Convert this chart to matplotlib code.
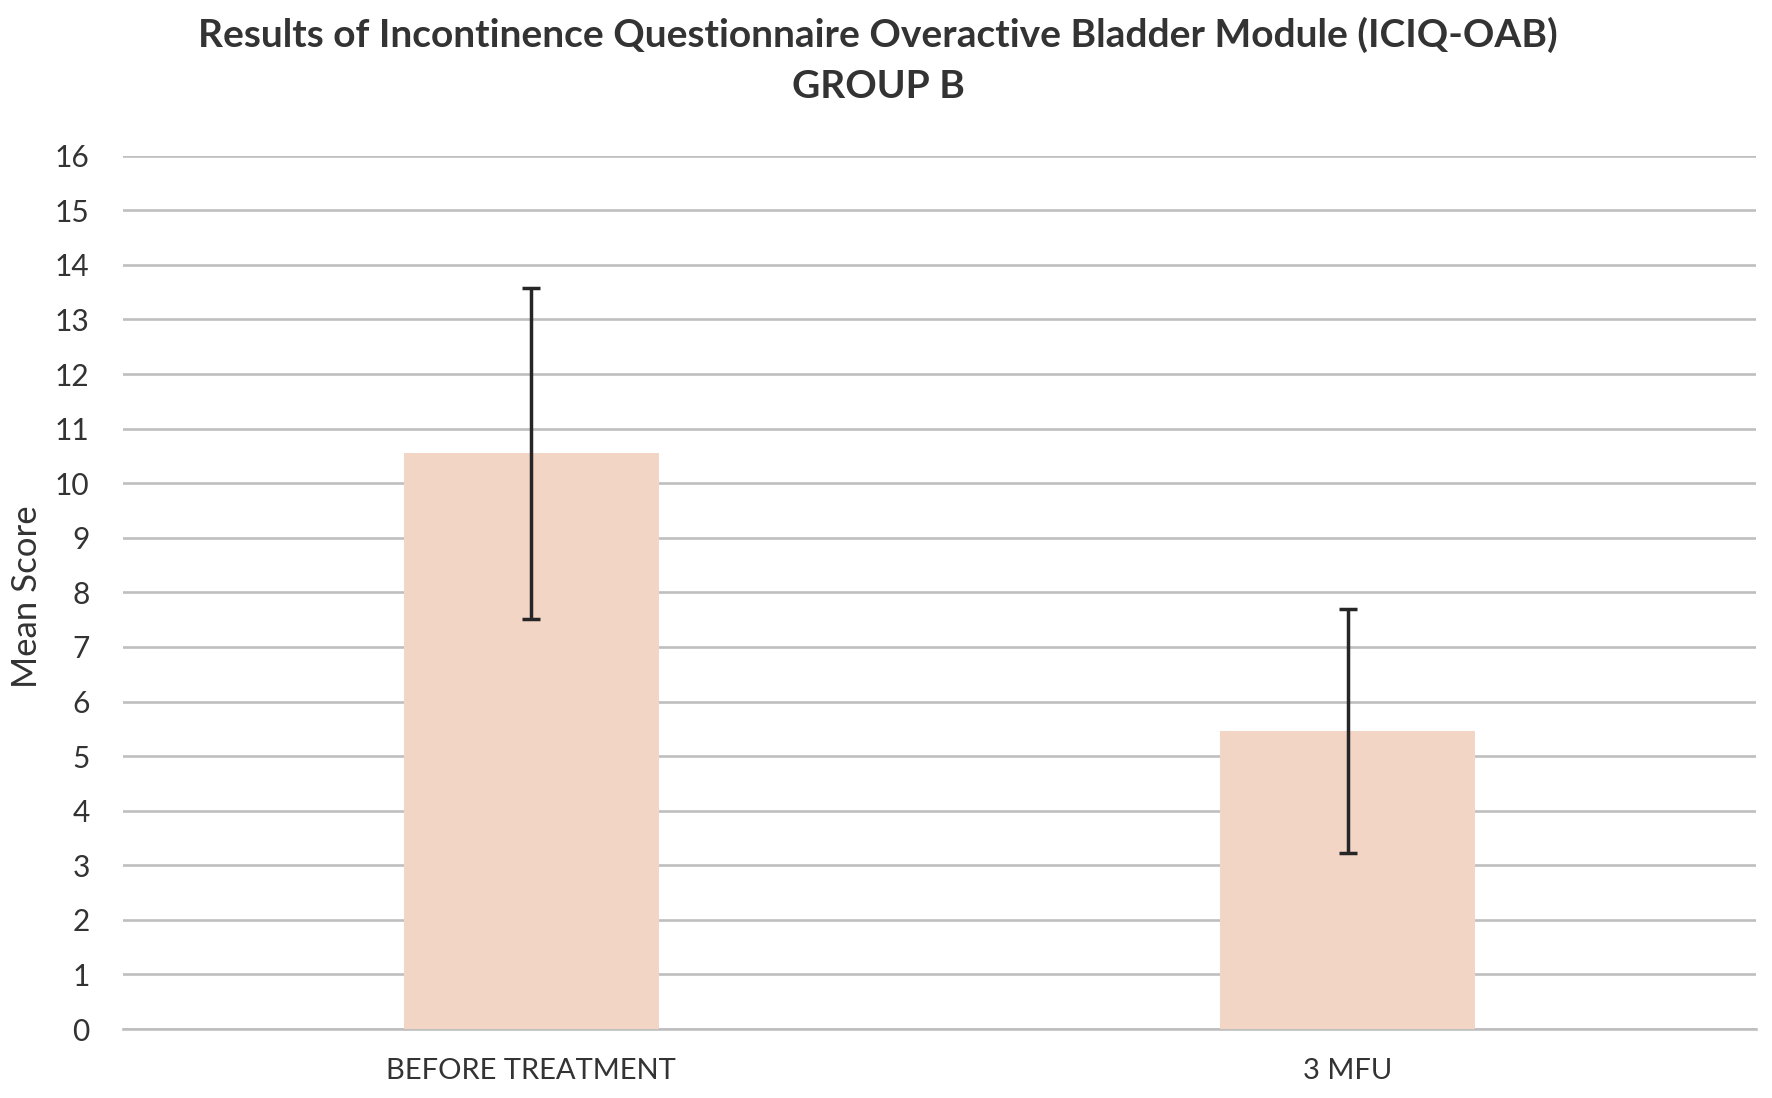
import matplotlib
matplotlib.use("Agg")
import matplotlib.pyplot as plt

categories = ["BEFORE TREATMENT", "3 MFU"]
means = [10.55, 5.46]
errors = [3.03, 2.24]
yticks = list(range(0, 17))
title_line1 = "Results of Incontinence Questionnaire Overactive Bladder Module (ICIQ-OAB)"
title_line2 = "GROUP B"
ylabel = "Mean Score"

plt.rcParams['font.family'] = ['Lato', 'DejaVu Sans']

fig = plt.figure(figsize=(17.72, 10.98), dpi=100)
ax = fig.add_axes([0.0694, 0.0628, 0.9216, 0.7954])

x = list(range(len(categories)))
ax.bar(x, means, width=0.312, color="#F2D5C4", zorder=2)
ax.errorbar(x, means, yerr=errors, fmt="none", ecolor="#262626",
            elinewidth=2.5, capsize=6.5, capthick=2.5, zorder=3)

ax.set_xlim(-0.5, 1.5)
ax.set_ylim(0, 16)
ax.set_yticks(yticks)
ax.set_yticklabels([str(t) for t in yticks])
ax.set_xticks(x)
ax.set_xticklabels(categories)
ax.yaxis.grid(True, color="#BFBFBF", linewidth=1.9, zorder=1)
ax.set_axisbelow(True)
for s in ["top", "right", "left"]:
    ax.spines[s].set_visible(False)
ax.spines["bottom"].set_color("#BFBFBF")
ax.spines["bottom"].set_linewidth(1.9)
ax.spines["bottom"].set_zorder(1)
ax.tick_params(axis="both", length=0, labelcolor="#333333")
ax.tick_params(axis="y", pad=24, labelsize=21.5)
ax.tick_params(axis="x", pad=21, labelsize=21)

fig.text(0.006, 0.457, ylabel, rotation=90, ha="left", va="center",
         fontsize=25, color="#333333")
fig.text(0.4955, 0.9575, title_line1, ha="center", va="baseline",
         fontsize=28, fontweight="bold", color="#333333")
fig.text(0.4955, 0.911, title_line2, ha="center", va="baseline",
         fontsize=28, fontweight="bold", color="#333333")

fig.savefig("out.png", dpi=100, facecolor="white")
